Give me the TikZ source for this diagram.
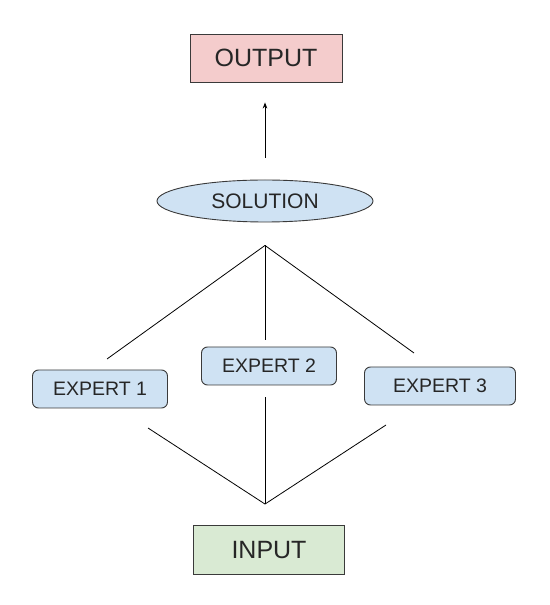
\documentclass[tikz,border=0pt]{standalone}
\usepackage{fontspec}
\setmainfont{Liberation Sans}
\usepackage{xcolor}
\usetikzlibrary{shapes.geometric, arrows.meta, positioning}
\definecolor{outpink}{HTML}{F4CCCC}
\definecolor{solblue}{HTML}{CFE2F3}
\definecolor{ingreen}{HTML}{D9EAD3}
\definecolor{edgegray}{HTML}{3A3A3A}
\tikzstyle{block} = [
    rectangle,
    minimum width=152pt,
    minimum height=48pt,
    text centered,
    draw=edgegray,
    line width=0.9pt,
    text=black!85,
    font=\fontsize{25}{30}\selectfont
]
\tikzstyle{expert} = [
    rectangle,
    rounded corners=6pt,
    minimum width=135pt,
    minimum height=38pt,
    text centered,
    draw=edgegray,
    line width=0.9pt,
    fill=solblue,
    text=black!85,
    font=\fontsize{19.5}{23}\selectfont
]
\tikzstyle{solution} = [
    ellipse,
    inner sep=0pt,
    minimum width=216pt,
    minimum height=42pt,
    text centered,
    draw=edgegray,
    line width=0.9pt,
    fill=solblue,
    text=black!85,
    font=\fontsize{21}{25}\selectfont
]
\tikzset{
    >={Stealth[length=6pt,width=4.5pt]}
}
\tikzstyle{arrow} = [
    line width=0.8pt,
    ->,
    draw=black
]
\tikzstyle{link} = [
    line width=0.8pt,
    draw=black
]

\begin{document}
\begin{tikzpicture}[x=1pt, y=1pt]
\useasboundingbox (0,0) rectangle (549,605);

% Nodes
\node (output) [block, fill=outpink] at (266,547) {OUTPUT};

\node (solution) [solution] at (265,404) {SOLUTION};

\node (expertA) [expert] at (100,216) {EXPERT 1};

\node (expertB) [expert] at (269,239) {EXPERT 2};

\node (expertC) [expert, minimum width=151pt] at (440,219) {EXPERT 3};

\node (input) [block, fill=ingreen, minimum width=151pt, minimum height=49pt] at (269,55) {INPUT};

% Fork points
\coordinate (solfork) at ([yshift=-23pt]solution.south);
\coordinate (infork) at ([yshift=21pt]input.north -| solfork);

\coordinate (topA) at (107,246);
\coordinate (topB) at ([yshift=7pt]expertB.north -| solfork);
\coordinate (topC) at (414,252);

\coordinate (botA) at (148,177);
\coordinate (botB) at ([yshift=-12pt]expertB.south -| solfork);
\coordinate (botC) at (386,180);

% Arrows
\draw [arrow, shorten <=22pt, shorten >=20pt] (solution.north) -- (output.south -| solution.north);

\draw [link] (solfork) -- (topA);
\draw [link] (solfork) -- (topB);
\draw [link] (solfork) -- (topC);

\draw [link] (botA) -- (infork);
\draw [link] (botB) -- (infork);
\draw [link] (botC) -- (infork);

\end{tikzpicture}
\end{document}
